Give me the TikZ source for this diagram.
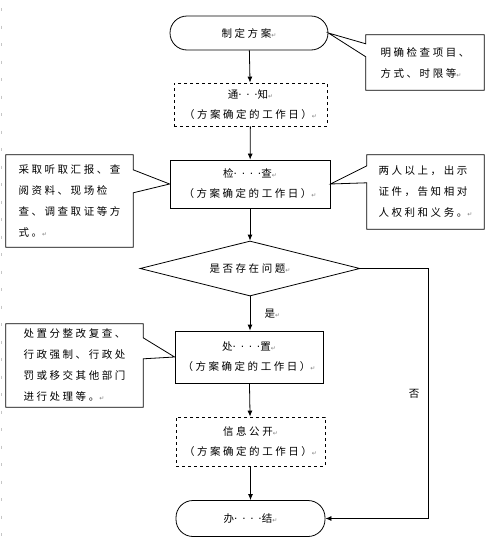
\documentclass[tikz,border=0pt]{standalone}
\usepackage{fontspec}
\setmainfont{Noto Sans CJK SC}[LetterSpace=24]
\newfontfamily\markfont{DejaVu Sans}
\newfontfamily\dotfont{DejaVu Sans}[LetterSpace=45]
\usetikzlibrary{shapes.geometric,arrows.meta}
\newcommand{\pmark}{{\markfont\fontsize{6}{6}\selectfont\textcolor{gray}{↵}}}
\newcommand{\gapdots}[1]{{\dotfont #1}}

\begin{document}
\begin{tikzpicture}[x=1pt, y=-1pt,
    every node/.style={font=\fontsize{10.5}{20}\selectfont},
    terminal/.style={draw, line width=0.8pt, rounded corners=17pt, minimum width=149pt, minimum height=36pt},
    stepbox/.style={draw, line width=0.8pt, align=center, inner sep=0pt},
    dashbox/.style={stepbox, dashed},
    decision/.style={draw, line width=0.8pt, diamond, aspect=4, inner sep=0pt, minimum width=220pt, minimum height=55pt},
    notebox/.style={align=left, inner sep=0pt, font=\fontsize{10.5}{21}\selectfont},
    callout/.style={line width=0.8pt, line join=miter},
    arrow/.style={-{Latex[length=6pt,width=5pt]}, line width=0.8pt}]

    \useasboundingbox (0,0) rectangle (493,552);
    \fill[white] (0,0) rectangle (493,552);

    % Margin marks
    \draw[gray!45, line width=1pt, dash pattern=on 3pt off 14.5pt] (1,8) -- (1,540);

    % Steps
    \node[terminal, minimum width=158pt, minimum height=34pt] (plan) at (249,33) {制定方案\pmark};
    \node[dashbox, minimum width=153pt, minimum height=43pt] (notice) at (250.5,104.5) {通\gapdots{···}知\pmark\\（方案确定的工作日）\pmark};
    \node[stepbox, minimum width=160pt, minimum height=48pt] (check) at (250,184) {检\gapdots{····}查\pmark\\（方案确定的工作日）\pmark};
    \node[decision] (decide) at (250,268.5) {是否存在问题\pmark};
    \node[stepbox, minimum width=148pt, minimum height=52pt] (handle) at (249,357) {处\gapdots{····}置\pmark\\（方案确定的工作日）\pmark};
    \node[dashbox, minimum width=149pt, minimum height=49pt] (publish) at (250.5,441.5) {信息公开\pmark\\（方案确定的工作日）\pmark};
    \node[terminal] (finish) at (250.5,518.5) {办\gapdots{····}结\pmark};

    % Notes
    \node[notebox, minimum width=118pt, minimum height=55pt] (goal) at (425,62.5) {明确检查项目、\\方式、时限等\pmark};
    \node[notebox, minimum width=127pt, minimum height=92pt] (method) at (69.5,201) {采取听取汇报、查\\阅资料、现场检\\查、调查取证等方\\式。\pmark};
    \node[notebox, minimum width=117pt, minimum height=74pt] (rights) at (425.5,192) {两人以上，出示\\证件，告知相对\\人权利和义务。\pmark};
    \node[notebox, minimum width=137pt, minimum height=83pt] (measure) at (74.5,365.5) {处置分整改复查、\\行政强制、行政处\\罚或移交其他部门\\进行处理等。\pmark};

    % Callout outlines
    \draw[callout] (goal.north west) -- (goal.north east) -- (goal.south east) -- (goal.south west)
      -- ([yshift=-22pt]goal.north west) -- (plan.east) -- ([yshift=-9pt]goal.north west) -- cycle;
    \draw[callout] (method.north west) -- (method.north east) -- ([yshift=-15pt]method.north east)
      -- (check.west) -- ([yshift=-38pt]method.north east) -- (method.south east) -- (method.south west) -- cycle;
    \draw[callout] (rights.north west) -- (rights.north east) -- (rights.south east) -- (rights.south west)
      -- ([yshift=-28pt]rights.north west) -- (check.east) -- ([yshift=-11pt]rights.north west) -- cycle;
    \draw[callout] (measure.north west) -- (measure.north east) -- ([yshift=-14pt]measure.north east)
      -- (handle.west) -- ([yshift=-35pt]measure.north east) -- (measure.south east) -- (measure.south west) -- cycle;

    % Flow
    \draw[arrow] (plan) -- (notice);
    \draw[arrow] (notice) -- (check);
    \draw[arrow] (check) -- (decide);
    \draw[arrow] (decide.south) -- node[right=11pt] {是\pmark} (decide.south |- handle.north);
    \draw[arrow] (handle) -- (publish);
    \draw[arrow] (publish) -- (finish);

    % No branch
    \coordinate (noturn) at (428,268.5);
    \draw[arrow] (decide.east) -- (noturn) -- node[left=5pt] {否} (noturn |- finish.east) -- (finish.east);

\end{tikzpicture}
\end{document}
